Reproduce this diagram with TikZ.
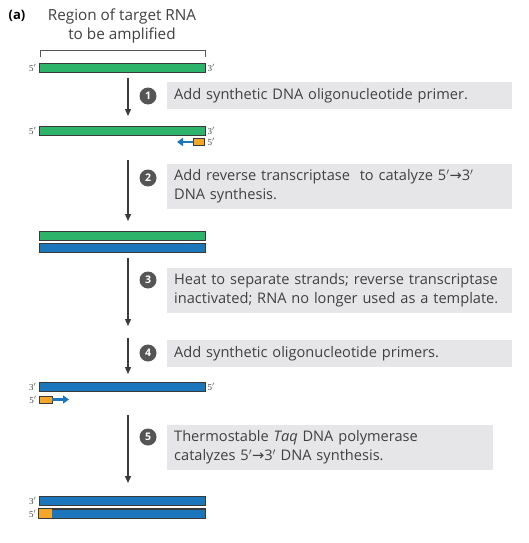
\documentclass[tikz,border=0pt]{standalone}
\usepackage{fontspec}
\setmainfont{Open Sans}
\newfontfamily\primefont{Liberation Serif}
\newfontfamily\symfont{DejaVu Sans}
\newcommand{\myarr}{{\symfont\char"2192}}
\usetikzlibrary{arrows.meta}
\definecolor{txt}{HTML}{404040}
\definecolor{boxgray}{HTML}{E6E6E8}
\definecolor{rnagreen}{HTML}{2EB36B}
\definecolor{dnablue}{HTML}{1B76BC}
\definecolor{primorange}{HTML}{F5A52A}
\definecolor{outline}{HTML}{3A3A3A}
\definecolor{circgray}{HTML}{555555}
\tikzset{
  strand/.style={draw=outline, line width=0.8pt, minimum width=166pt, minimum height=9pt, inner sep=0pt},
  primerbox/.style={draw=outline, line width=0.6pt, fill=primorange, minimum width=11pt, minimum height=7pt, inner sep=0pt},
  endlabel/.style={font=\primefont\fontsize{9}{9}\selectfont, text=txt, inner sep=0pt},
  stepbox/.style={fill=boxgray, anchor=west, align=left, text=txt, font=\fontsize{14.6}{19}\selectfont, inner xsep=7pt, inner ysep=6pt},
  stepnum/.style={circle, fill=circgray, text=white, font=\bfseries\fontsize{10.5}{10.5}\selectfont, minimum size=17pt, inner sep=0pt},
  steparrow/.style={draw=outline, line width=1.3pt, -{Triangle[length=7pt, width=6pt]}},
  extarrow/.style={draw=dnablue, line width=2.2pt, -{Triangle[length=6pt, width=8pt]}},
  title/.style={text=txt, font=\fontsize{15.3}{16}\selectfont, inner sep=0pt}
}
\begin{document}
\begin{tikzpicture}[x=1pt, y=-1pt]
\useasboundingbox (0,0) rectangle (529,543);
% title
\node[text=black, font=\bfseries\fontsize{13}{13}\selectfont, inner sep=0pt] (lbl) at (17,16) {(a)};
\node[title] (t1) at (122,16) {Region of target RNA};
\node[title] (t2) at (122,35) {to be amplified};
\coordinate (bl) at (40,57);
\coordinate (br) at (205,57);
\draw[draw=circgray, line width=0.8pt] (bl) -- ++(0,-7) -| (br);
% strand 1
\node[strand, fill=rnagreen] (s1) at (122,68) {};
\node[endlabel, anchor=east] (s1l) at ([xshift=-2pt]s1.west) {5$'$};
\node[endlabel, anchor=west] (s1r) at ([xshift=2pt]s1.east) {3$'$};
% step 1
\coordinate (a1s) at (128,78);
\coordinate (a1e) at (128,116);
\draw[steparrow] (a1s) -- (a1e);
\node[stepnum] (n1) at (148,96) {1};
\node[stepbox, minimum width=345pt, text width=331pt] (b1) at (167,95.5) {Add synthetic DNA oligonucleotide primer.};
% strand 2
\node[strand, fill=rnagreen] (s2) at (122,131) {};
\node[endlabel, anchor=east] (s2l) at ([xshift=-2pt]s2.west) {5$'$};
\node[endlabel, anchor=west] (s2r) at ([xshift=2pt]s2.east) {3$'$};
\node[primerbox] (p1) at (198.5,142) {};
\node[endlabel, anchor=west] (p1r) at ([xshift=3pt]p1.east) {5$'$};
\coordinate (p1t) at (177,142);
\draw[extarrow] (p1.west) -- (p1t);
% step 2
\coordinate (a2s) at (128,160);
\coordinate (a2e) at (128,221);
\draw[steparrow] (a2s) -- (a2e);
\node[stepnum] (n2) at (148,178) {2};
\node[stepbox, minimum width=345pt, text width=331pt] (b2) at (167,186.5) {Add reverse transcriptase \ to catalyze 5$'$\myarr3$'$\\DNA synthesis.};
% double strand
\node[strand, fill=rnagreen] (s3a) at (122,235.5) {};
\node[strand, fill=dnablue] (s3b) at (122,248) {};
% step 3
\coordinate (a3s) at (128,258);
\coordinate (a3e) at (128,326);
\draw[steparrow] (a3s) -- (a3e);
\node[stepnum] (n3) at (148,280) {3};
\node[stepbox, minimum width=345pt, text width=331pt] (b3) at (167,290.5) {Heat to separate strands; reverse transcriptase\\inactivated; RNA no longer used as a template.};
% step 4
\coordinate (a4s) at (128,338);
\coordinate (a4e) at (128,374);
\draw[steparrow] (a4s) -- (a4e);
\node[stepnum] (n4) at (148,353) {4};
\node[stepbox, minimum width=345pt, text width=331pt] (b4) at (167,353.5) {Add synthetic oligonucleotide primers.};
% blue strand
\node[strand, fill=dnablue] (s4) at (122,387) {};
\node[endlabel, anchor=east] (s4l) at ([xshift=-2pt]s4.west) {3$'$};
\node[endlabel, anchor=west] (s4r) at ([xshift=2pt]s4.east) {5$'$};
\node[primerbox, minimum width=13pt] (p2) at (45.5,399.5) {};
\node[endlabel, anchor=east] (p2l) at ([xshift=-2pt]p2.west) {5$'$};
\coordinate (p2t) at (69,399.5);
\draw[extarrow] (p2.east) -- (p2t);
% step 5
\coordinate (a5s) at (128,415);
\coordinate (a5e) at (128,483);
\draw[steparrow] (a5s) -- (a5e);
\node[stepnum] (n5) at (148,437) {5};
\node[stepbox, minimum width=326pt, text width=312pt] (b5) at (167,447.5) {Thermostable \textit{Taq} DNA polymerase\\catalyzes 5$'$\myarr3$'$ DNA synthesis.};
% final
\node[strand, fill=dnablue] (s5a) at (122,500.5) {};
\node[endlabel, anchor=east] (s5al) at ([xshift=-2pt]s5a.west) {3$'$};
\node[strand, fill=dnablue] (s5b) at (122,513.5) {};
\node[endlabel, anchor=east] (s5bl) at ([xshift=-2pt]s5b.west) {5$'$};
\node[primerbox, minimum width=13pt, minimum height=9pt, anchor=west, line width=0pt, draw=none] (p3) at ([xshift=0.4pt]s5b.west) {};
\draw[draw=outline, line width=0.8pt] (s5b.north west) rectangle (s5b.south east);
\end{tikzpicture}
\end{document}
